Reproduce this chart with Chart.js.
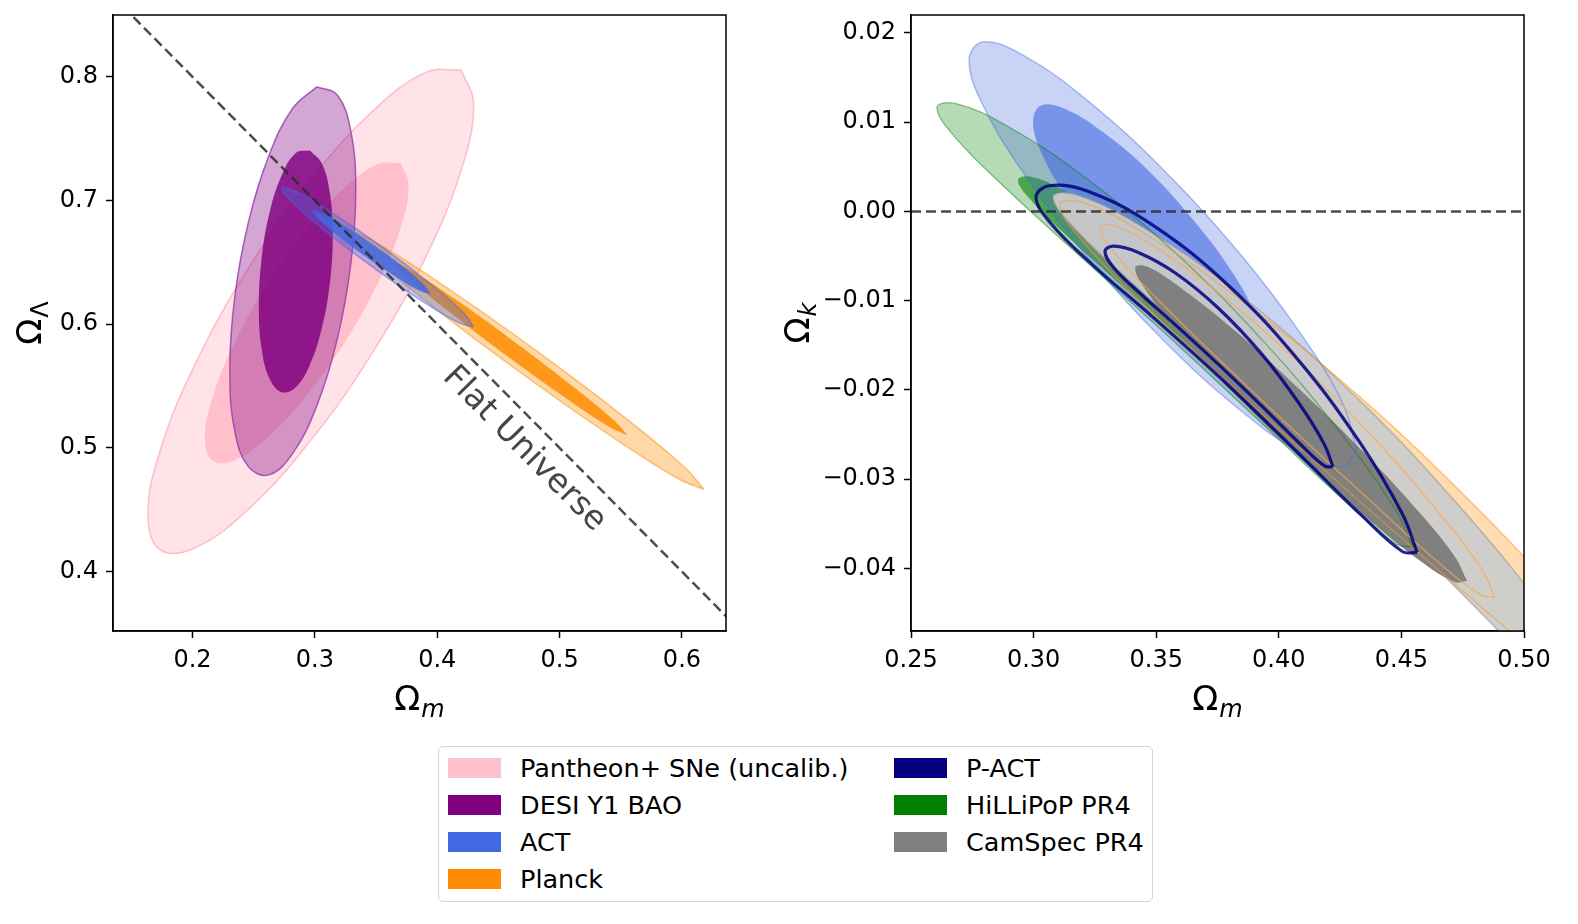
<!DOCTYPE html>
<html>
<head>
<meta charset="utf-8">
<script src="https://cdn.jsdelivr.net/npm/chart.js@4.4.0/dist/chart.umd.min.js"></script>
<style>
  body { margin: 0; background: #fff; width: 1578px; height: 924px; position: relative; overflow: hidden; font-family: "DejaVu Sans", sans-serif; }
  #left { position: absolute; left: 0; top: 0; }
  #right { position: absolute; left: 760px; top: 0; }
  #legend { position: absolute; left: 438px; top: 746px; width: 713px; height: 154px; border: 1.5px solid #d3d3d3; border-radius: 5px; }
  .item { position: absolute; height: 30px; line-height: 30px; font-size: 25.5px; color: #000; white-space: nowrap; }
  .swatch { position: absolute; left: 0; top: 5px; width: 53px; height: 20px; }
  .item span { position: absolute; left: 72px; }
</style>
</head>
<body>
<canvas id="left" width="740" height="720"></canvas>
<canvas id="right" width="800" height="720"></canvas>
<div id="legend"></div>
<script>
// left panel: Omega_m vs Omega_Lambda
const leftXRange = [0.135, 0.636];
const leftYRange = [0.352, 0.85];
const leftXTicks = [0.2, 0.3, 0.4, 0.5, 0.6];
const leftYTicks = [0.4, 0.5, 0.6, 0.7, 0.8];

const pantheonOuter = [[0.4196,0.8056],[0.4297,0.7778],[0.4196,0.7248],[0.3907,0.6545],[0.3476,0.5778],[0.2966,0.5061],[0.2457,0.4505],[0.2026,0.4195],[0.1737,0.4176],[0.1636,0.4453],[0.1737,0.4983],[0.2026,0.5686],[0.2457,0.6453],[0.2966,0.7170],[0.3476,0.7726],[0.3907,0.8036]];
const pantheonInner = [[0.3703,0.7301],[0.3766,0.7121],[0.3703,0.6786],[0.3522,0.6346],[0.3253,0.5869],[0.2934,0.5426],[0.2614,0.5086],[0.2345,0.4901],[0.2165,0.4897],[0.2101,0.5077],[0.2165,0.5413],[0.2345,0.5853],[0.2614,0.6330],[0.2934,0.6773],[0.3253,0.7113],[0.3522,0.7298]];
const desiOuter = [[0.3016,0.7919],[0.3183,0.7853],[0.3294,0.7560],[0.3334,0.7081],[0.3294,0.6491],[0.3183,0.5880],[0.3016,0.5342],[0.2819,0.4956],[0.2623,0.4782],[0.2456,0.4849],[0.2344,0.5142],[0.2305,0.5621],[0.2344,0.6210],[0.2456,0.6821],[0.2623,0.7360],[0.2819,0.7746]];
const desiInner = [[0.2960,0.7404],[0.3058,0.7298],[0.3123,0.7056],[0.3146,0.6720],[0.3123,0.6339],[0.3058,0.5973],[0.2960,0.5675],[0.2844,0.5491],[0.2728,0.5451],[0.2630,0.5559],[0.2565,0.5800],[0.2542,0.6136],[0.2565,0.6536],[0.2630,0.6904],[0.2728,0.7202],[0.2844,0.7385]];
const actLeftOuter = [[0.4297,0.5978],[0.4218,0.6090],[0.3950,0.6322],[0.3566,0.6614],[0.3166,0.6885],[0.2861,0.7065],[0.2730,0.7104],[0.2809,0.6992],[0.3077,0.6760],[0.3461,0.6469],[0.3860,0.6197],[0.4166,0.6017]];
const actLeftInner = [[0.3946,0.6246],[0.3897,0.6314],[0.3734,0.6454],[0.3497,0.6628],[0.3252,0.6790],[0.3064,0.6897],[0.2983,0.6918],[0.3032,0.6850],[0.3195,0.6710],[0.3432,0.6536],[0.3677,0.6374],[0.3864,0.6267]];
const planckLeftOuter = [[0.6182,0.4663],[0.6019,0.4846],[0.5513,0.5261],[0.4798,0.5794],[0.4065,0.6304],[0.3512,0.6653],[0.3286,0.6749],[0.3448,0.6566],[0.3954,0.6151],[0.4669,0.5618],[0.5402,0.5108],[0.5956,0.4759]];
const planckLeftInner = [[0.5555,0.5102],[0.5447,0.5221],[0.5112,0.5495],[0.4641,0.5851],[0.4161,0.6193],[0.3798,0.6429],[0.3651,0.6497],[0.3760,0.6378],[0.4094,0.6103],[0.4565,0.5747],[0.5046,0.5406],[0.5409,0.5169]];
const flatX = [0.10, 0.70];
const flatY = [0.90, 0.30];
const flatLabel = 'Flat Universe';
const flatLabelAt = [0.471, 0.499];

// right panel: Omega_m vs Omega_k
const rightXRange = [0.25, 0.50];
const rightYRange = [-0.047, 0.022];
const rightXTicks = [0.25, 0.30, 0.35, 0.40, 0.45, 0.50];
const rightYTicks = [-0.04, -0.03, -0.02, -0.01, 0, 0.01, 0.02];

const actRightOuter = [[0.4319,-0.0267],[0.4259,-0.0286],[0.4087,-0.0270],[0.3831,-0.0220],[0.3528,-0.0144],[0.3225,-0.0053],[0.2969,0.0039],[0.2797,0.0117],[0.2737,0.0170],[0.2797,0.0190],[0.2969,0.0173],[0.3225,0.0123],[0.3528,0.0047],[0.3831,-0.0044],[0.4087,-0.0136],[0.4259,-0.0214]];
const actRightInner = [[0.3936,-0.0149],[0.3900,-0.0166],[0.3798,-0.0162],[0.3646,-0.0136],[0.3467,-0.0093],[0.3287,-0.0040],[0.3135,0.0016],[0.3033,0.0065],[0.2998,0.0101],[0.3033,0.0119],[0.3135,0.0114],[0.3287,0.0088],[0.3467,0.0046],[0.3646,-0.0008],[0.3798,-0.0063],[0.3900,-0.0113]];
const hilliOuter = [[0.4547,-0.0376],[0.4473,-0.0372],[0.4263,-0.0323],[0.3949,-0.0242],[0.3577,-0.0147],[0.3205,-0.0054],[0.2890,0.0025],[0.2680,0.0083],[0.2606,0.0116],[0.2680,0.0121],[0.2890,0.0096],[0.3205,0.0039],[0.3577,-0.0046],[0.3949,-0.0149],[0.4263,-0.0252],[0.4473,-0.0333]];
const hilliInner = [[0.4229,-0.0289],[0.4180,-0.0286],[0.4040,-0.0254],[0.3830,-0.0201],[0.3583,-0.0138],[0.3335,-0.0077],[0.3126,-0.0025],[0.2985,0.0014],[0.2936,0.0035],[0.2985,0.0039],[0.3126,0.0023],[0.3335,-0.0015],[0.3583,-0.0071],[0.3830,-0.0139],[0.4040,-0.0206],[0.4180,-0.0261]];
const planckRightOuter = [[0.5555,-0.0585],[0.5462,-0.0582],[0.5196,-0.0529],[0.4800,-0.0437],[0.4331,-0.0325],[0.3863,-0.0210],[0.3466,-0.0109],[0.3201,-0.0034],[0.3108,0.0007],[0.3201,0.0010],[0.3466,-0.0027],[0.3863,-0.0103],[0.4331,-0.0208],[0.4800,-0.0330],[0.5196,-0.0446],[0.5462,-0.0537]];
const planckRightInner = [[0.4882,-0.0432],[0.4821,-0.0429],[0.4646,-0.0392],[0.4385,-0.0327],[0.4076,-0.0249],[0.3768,-0.0169],[0.3507,-0.0099],[0.3332,-0.0047],[0.3271,-0.0018],[0.3332,-0.0016],[0.3507,-0.0042],[0.3768,-0.0094],[0.4076,-0.0168],[0.4385,-0.0253],[0.4646,-0.0335],[0.4821,-0.0398]];
const camspecOuter = [[0.5469,-0.0612],[0.5378,-0.0601],[0.5119,-0.0532],[0.4732,-0.0424],[0.4274,-0.0300],[0.3816,-0.0183],[0.3429,-0.0087],[0.3170,-0.0020],[0.3079,0.0016],[0.3170,0.0019],[0.3429,-0.0015],[0.3816,-0.0088],[0.4274,-0.0197],[0.4732,-0.0329],[0.5119,-0.0459],[0.5378,-0.0561]];
const camspecInner = [[0.4768,-0.0414],[0.4716,-0.0415],[0.4569,-0.0390],[0.4350,-0.0341],[0.4091,-0.0277],[0.3831,-0.0207],[0.3612,-0.0141],[0.3465,-0.0091],[0.3414,-0.0063],[0.3465,-0.0062],[0.3612,-0.0088],[0.3831,-0.0136],[0.4091,-0.0201],[0.4350,-0.0271],[0.4569,-0.0336],[0.4716,-0.0386]];
const pactOuter = [[0.4564,-0.0382],[0.4504,-0.0381],[0.4336,-0.0340],[0.4084,-0.0272],[0.3787,-0.0193],[0.3489,-0.0119],[0.3237,-0.0059],[0.3069,-0.0013],[0.3010,0.0016],[0.3069,0.0029],[0.3237,0.0021],[0.3489,-0.0016],[0.3787,-0.0081],[0.4084,-0.0168],[0.4336,-0.0261],[0.4504,-0.0339]];
const pactInner = [[0.4221,-0.0286],[0.4186,-0.0285],[0.4085,-0.0260],[0.3934,-0.0219],[0.3756,-0.0172],[0.3578,-0.0127],[0.3427,-0.0090],[0.3327,-0.0063],[0.3291,-0.0045],[0.3327,-0.0039],[0.3427,-0.0046],[0.3578,-0.0069],[0.3756,-0.0109],[0.3934,-0.0161],[0.4085,-0.0216],[0.4186,-0.0261]];
const zeroX = [0.25, 0.50];
const zeroY = [0, 0];

const legendLabels = ['Pantheon+ SNe (uncalib.)', 'DESI Y1 BAO', 'ACT', 'Planck', 'P-ACT', 'HiLLiPoP PR4', 'CamSpec PR4'];
const legendColors = ['#ffc0cb', '#800080', '#4169e1', '#ff8c00', '#000080', '#008000', '#808080'];

Chart.defaults.font.family = '"DejaVu Sans", sans-serif';

function closed(pts) {
  return pts.concat([pts[0]]).map(([x, y]) => ({ x, y }));
}

function contour(pts, fillColor, lineColor, lineWidth) {
  return {
    data: closed(pts),
    showLine: true,
    fill: fillColor ? 'shape' : false,
    backgroundColor: fillColor || 'transparent',
    borderColor: lineColor || 'transparent',
    borderWidth: lineWidth || 0,
    pointRadius: 0,
    tension: 0.4,
    clip: 0
  };
}

function dashed(xs, ys) {
  return {
    data: xs.map((x, i) => ({ x, y: ys[i] })),
    showLine: true,
    fill: false,
    borderColor: 'rgba(45,45,45,0.85)',
    borderWidth: 2.5,
    borderDash: [10, 5],
    pointRadius: 0,
    clip: 0
  };
}

// first in list is drawn at the bottom
function stack(list) {
  return list.map((d, i) => Object.assign(d, { order: list.length - i }));
}

const frame = {
  id: 'frame',
  afterDraw(chart) {
    const a = chart.chartArea, ctx = chart.ctx;
    ctx.save();
    ctx.strokeStyle = '#000';
    ctx.lineWidth = 1.5;
    ctx.strokeRect(a.left, a.top, a.right - a.left, a.bottom - a.top);
    ctx.restore();
  }
};

function drawMath(ctx, cx, cy, main, sub, italic) {
  const mainFont = '34px "DejaVu Sans"';
  const subFont = (italic ? 'italic ' : '') + '24px "DejaVu Sans"';
  ctx.font = mainFont;
  const w1 = ctx.measureText(main).width;
  ctx.font = subFont;
  const w2 = ctx.measureText(sub).width;
  const x0 = cx - (w1 + w2 + 1) / 2;
  ctx.textAlign = 'left';
  ctx.textBaseline = 'alphabetic';
  ctx.fillStyle = '#000';
  ctx.font = mainFont;
  ctx.fillText(main, x0, cy + 13);
  ctx.font = subFont;
  ctx.fillText(sub, x0 + w1 + 1, cy + 20);
}

const mathTitles = {
  id: 'mathTitles',
  afterDraw(chart, args, opts) {
    const a = chart.chartArea, ctx = chart.ctx;
    ctx.save();
    drawMath(ctx, (a.left + a.right) / 2, opts.xTitleY, opts.x[0], opts.x[1], opts.x[2]);
    ctx.translate(opts.yTitleX, (a.top + a.bottom) / 2);
    ctx.rotate(-Math.PI / 2);
    drawMath(ctx, 0, 0, opts.y[0], opts.y[1], opts.y[2]);
    ctx.restore();
  }
};

const flatText = {
  id: 'flatText',
  afterDatasetsDraw(chart) {
    const xs = chart.scales.x, ys = chart.scales.y, ctx = chart.ctx;
    const ang = Math.atan2(ys.getPixelForValue(flatY[1]) - ys.getPixelForValue(flatY[0]),
                           xs.getPixelForValue(flatX[1]) - xs.getPixelForValue(flatX[0]));
    ctx.save();
    ctx.translate(xs.getPixelForValue(flatLabelAt[0]), ys.getPixelForValue(flatLabelAt[1]));
    ctx.rotate(ang);
    ctx.font = '33px "DejaVu Sans"';
    ctx.fillStyle = 'rgba(60,60,60,0.95)';
    ctx.textAlign = 'center';
    ctx.textBaseline = 'middle';
    ctx.fillText(flatLabel, 0, 0);
    ctx.restore();
  }
};

function axis(range, ticks, fmt, fit) {
  return {
    type: 'linear',
    min: range[0],
    max: range[1],
    afterBuildTicks: (s) => { s.ticks = ticks.map(v => ({ value: v })); },
    afterFit: (s) => {
      fit(s);
      s.paddingLeft = 0; s.paddingRight = 0; s.paddingTop = 0; s.paddingBottom = 0;
    },
    grid: { display: true, drawOnChartArea: false, drawTicks: true, tickLength: 7, tickColor: '#000', tickWidth: 1.5 },
    border: { display: true, color: '#000', width: 1.5 },
    ticks: { color: '#000', font: { size: 24 }, padding: 8, autoSkip: false, maxRotation: 0, callback: fmt }
  };
}

const baseOptions = {
  responsive: false,
  animation: false,
  devicePixelRatio: 1,
  elements: { line: { capBezierPoints: false } },
  plugins: { legend: { display: false }, tooltip: { enabled: false } }
};

new Chart(document.getElementById('left'), {
  type: 'scatter',
  data: {
    datasets: stack([
      contour(pantheonOuter, 'rgba(255,192,203,0.45)', 'rgba(255,182,195,0.9)', 1.5),
      contour(pantheonInner, 'rgba(255,180,195,0.75)'),
      contour(desiOuter, 'rgba(128,0,128,0.35)', 'rgba(150,60,170,0.8)', 1.5),
      contour(desiInner, 'rgba(128,0,128,0.82)'),
      contour(planckLeftOuter, 'rgba(255,140,0,0.34)', 'rgba(255,150,30,0.55)', 1.5),
      contour(planckLeftInner, 'rgba(255,140,0,0.85)'),
      contour(actLeftOuter, 'rgba(65,105,225,0.35)', 'rgba(65,105,225,0.5)', 1.5),
      contour(actLeftInner, 'rgba(65,105,225,0.85)'),
      dashed(flatX, flatY)
    ])
  },
  options: Object.assign({}, baseOptions, {
    layout: { padding: { top: 15, right: 14, left: 0, bottom: 0 } },
    scales: {
      x: axis(leftXRange, leftXTicks, v => v.toFixed(1), s => { s.height = 89; }),
      y: axis(leftYRange, leftYTicks, v => v.toFixed(1), s => { s.width = 113; })
    },
    plugins: Object.assign({}, baseOptions.plugins, {
      mathTitles: { x: ['Ω', 'm', true], y: ['Ω', 'Λ', false], xTitleY: 697, yTitleX: 28 }
    })
  }),
  plugins: [frame, mathTitles, flatText]
});

new Chart(document.getElementById('right'), {
  type: 'scatter',
  data: {
    datasets: stack([
      contour(hilliOuter, 'rgba(0,128,0,0.29)'),
      contour(hilliInner, 'rgba(0,128,0,0.58)'),
      contour(planckRightOuter, 'rgba(255,140,0,0.3)'),
      contour(actRightOuter, 'rgba(65,105,225,0.29)'),
      contour(actRightInner, 'rgba(65,105,225,0.6)'),
      contour(camspecOuter, 'rgba(204,204,204,0.93)', 'rgba(150,150,150,0.6)', 1.5),
      contour(camspecInner, 'rgba(128,128,128,1)'),
      // contour edges drawn over the CamSpec fill
      contour(hilliOuter, null, 'rgba(0,128,0,0.45)', 1.3),
      contour(planckRightOuter, null, 'rgba(255,150,30,0.55)', 1.3),
      contour(actRightOuter, null, 'rgba(65,105,225,0.4)', 1.5),
      contour(planckRightInner, null, 'rgba(255,165,70,0.7)', 1.3),
      contour(pactOuter, null, 'rgba(0,0,128,0.85)', 3.2),
      contour(pactInner, null, 'rgba(0,0,128,0.85)', 3.2),
      dashed(zeroX, zeroY)
    ])
  },
  options: Object.assign({}, baseOptions, {
    layout: { padding: { top: 15, right: 36, left: 0, bottom: 0 } },
    scales: {
      x: axis(rightXRange, rightXTicks, v => v.toFixed(2), s => { s.height = 89; }),
      y: axis(rightYRange, rightYTicks, v => v.toFixed(2).replace('-', '\u2212'), s => { s.width = 151; })
    },
    plugins: Object.assign({}, baseOptions.plugins, {
      mathTitles: { x: ['Ω', 'm', true], y: ['Ω', 'k', true], xTitleY: 697, yTitleX: 36 }
    })
  }),
  plugins: [frame, mathTitles]
});

const legend = document.getElementById('legend');
legendLabels.forEach((label, i) => {
  const col = i < 4 ? 0 : 1;
  const row = i < 4 ? i : i - 4;
  const item = document.createElement('div');
  item.className = 'item';
  item.style.left = (col === 0 ? 9 : 455) + 'px';
  item.style.top = (6 + row * 37) + 'px';
  item.innerHTML = '<div class="swatch" style="background:' + legendColors[i] + '"></div><span></span>';
  item.querySelector('span').textContent = label;
  legend.appendChild(item);
});
</script>
</body>
</html>
